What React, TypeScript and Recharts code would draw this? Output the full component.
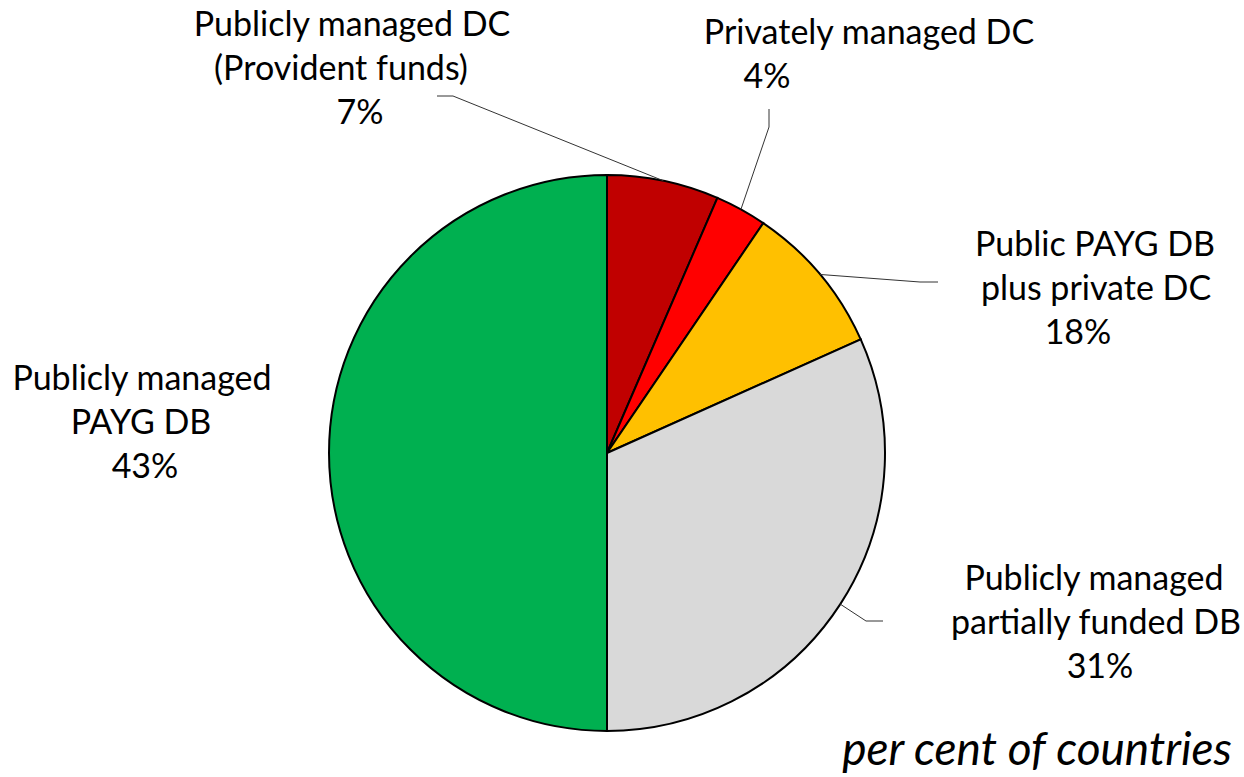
import React from 'react';
import { PieChart, Pie, Cell } from 'recharts';

// slice order: clockwise from 12 o'clock
const categories = [
  'Publicly managed DC (Provident funds)',
  'Privately managed DC',
  'Public PAYG DB plus private DC',
  'Publicly managed partially funded DB',
  'Publicly managed PAYG DB',
];
// share of the circle each slice takes in the picture
const sliceShares = [6.5, 3.0, 8.8, 31.7, 50];
// percentages written in the labels
const labelPercents = ['7%', '4%', '18%', '31%', '43%'];
const labelTitles = [
  ['Publicly managed DC', '(Provident funds)'],
  ['Privately managed DC'],
  ['Public PAYG DB', 'plus private DC'],
  ['Publicly managed', 'partially funded DB'],
  ['Publicly managed', 'PAYG DB'],
];
const sliceColors = ['#C00000', '#FF0000', '#FFC000', '#D9D9D9', '#00B050'];

const chartData = categories.map((name, i) => ({
  name,
  value: sliceShares[i],
  label: labelPercents[i],
}));

// text placement: x centre + baseline per line, plus leader elbow/end
const labelLayout = [
  { lines: [[352, 36], [341, 80], [360, 124]], leader: [[453, 96], [437, 96]] },
  { lines: [[869, 44], [767, 88]], leader: [[769, 127], [769, 109]] },
  { lines: [[1095, 256], [1096, 300], [1078, 344]], leader: [[920, 282], [938, 282]] },
  { lines: [[1094, 590], [1096, 634], [1100, 678]], leader: [[866, 621], [883, 621]] },
  { lines: [[142, 390], [141, 434], [145, 478]], leader: null },
];

const FONT = 'Lato, Carlito, Calibri, sans-serif';

const renderLabel = (props: any) => {
  const { cx, cy, midAngle, outerRadius, index } = props;
  const layout = labelLayout[index];
  const RAD = Math.PI / 180;
  const sx = cx + outerRadius * Math.cos(-midAngle * RAD);
  const sy = cy + outerRadius * Math.sin(-midAngle * RAD);
  const texts = [...labelTitles[index], labelPercents[index]];
  return (
    <g key={`lbl-${index}`}>
      {layout.leader && (
        <polyline
          points={`${sx},${sy} ${layout.leader.map((p) => p.join(',')).join(' ')}`}
          fill="none"
          stroke="#333"
          strokeWidth={1}
        />
      )}
      {texts.map((t, i) => (
        <text
          key={i}
          x={layout.lines[i][0]}
          y={layout.lines[i][1]}
          textAnchor="middle"
          fontFamily={FONT}
          fontSize={34}
          fill="#000"
        >
          {t}
        </text>
      ))}
    </g>
  );
};

export default function App() {
  return (
    <div style={{ position: 'absolute', left: 0, top: 0, width: 1244, height: 777, background: '#fff' }}>
      <PieChart width={1244} height={777} margin={{ top: 0, right: 0, bottom: 0, left: 0 }}>
        <Pie
          data={chartData}
          dataKey="value"
          cx={607}
          cy={453}
          outerRadius={278}
          startAngle={90}
          endAngle={-270}
          stroke="#000"
          strokeWidth={2}
          label={renderLabel}
          labelLine={false}
          isAnimationActive={false}
        >
          {chartData.map((entry, index) => (
            <Cell key={`cell-${index}`} fill={sliceColors[index]} />
          ))}
        </Pie>
        <text
          x={1232}
          y={765}
          textAnchor="end"
          fontFamily={FONT}
          fontStyle="italic"
          fontSize={46}
          fill="#000"
        >
          per cent of countries
        </text>
      </PieChart>
    </div>
  );
}
